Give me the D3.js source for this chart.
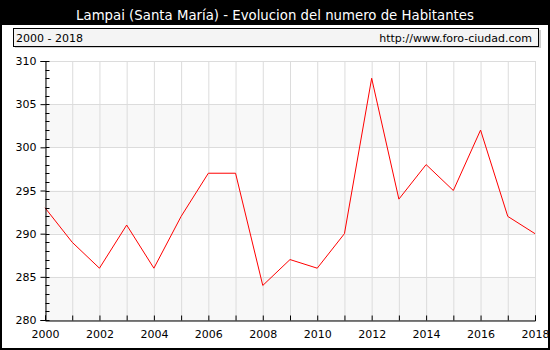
<!DOCTYPE html>
<html><head><meta charset="utf-8">
<script src="https://cdn.jsdelivr.net/npm/d3@7"></script>
<style>body{margin:0;background:#fff}svg{display:block}text{font-family:"DejaVu Sans",sans-serif}</style>
</head><body>
<script>
const titleText = "Lampai (Santa María) - Evolucion del numero de Habitantes";
const periodText = "2000 - 2018";
const sourceText = "http://www.foro-ciudad.com";
const years = [2000,2001,2002,2003,2004,2005,2006,2007,2008,2009,2010,2011,2012,2013,2014,2015,2016,2017,2018];
const population = [293,289,286,291,286,292,297,297,284,287,286,290,308,294,298,295,302,292,290];
const yTicks = [280,285,290,295,300,305,310];
const xLabels = [2000,2002,2004,2006,2008,2010,2012,2014,2016,2018];

const W=550,H=350;
const svg=d3.select("body").append("svg").attr("width",W).attr("height",H);
svg.append("rect").attr("x",1).attr("y",1).attr("width",W-2).attr("height",H-2).attr("fill","#fff").attr("stroke","#000").attr("stroke-width",2);
svg.append("rect").attr("x",0).attr("y",0).attr("width",W).attr("height",25).attr("fill","#000");
svg.append("text").attr("x",W/2).attr("y",20).attr("text-anchor","middle").attr("fill","#fff").attr("font-size",13.3).text(titleText);
svg.append("rect").attr("x",15).attr("y",30).attr("width",526).attr("height",18).attr("fill","#cfcfcf");
svg.append("rect").attr("x",13.5).attr("y",28.5).attr("width",525).attr("height",18).attr("fill","#f4f4f4").attr("stroke","#000").attr("stroke-width",1);
svg.append("text").attr("x",16).attr("y",41.5).attr("font-size",11).attr("fill","#000").text(periodText);
svg.append("text").attr("x",532).attr("y",41.5).attr("text-anchor","end").attr("font-size",11).attr("fill","#000").text(sourceText);

const x=d3.scaleLinear().domain([2000,2018]).range([45,535]);
const y=d3.scaleLinear().domain([280,310]).range([320,61]);
const g=svg.append("g");
// bands
for(let i=0;i<yTicks.length-1;i++){
  if(i%2===0){
    g.append("rect").attr("x",x(2000)).attr("y",y(yTicks[i+1])).attr("width",x(2018)-x(2000)).attr("height",y(yTicks[i])-y(yTicks[i+1])).attr("fill","#f8f8f8");
  }
}
// grid
g.selectAll(".vg").data(years).enter().append("line").attr("x1",d=>x(d)+0.5).attr("x2",d=>x(d)+0.5).attr("y1",y(310)).attr("y2",y(280)).attr("stroke","#dcdcdc").attr("stroke-width",1);
g.selectAll(".hg").data(yTicks).enter().append("line").attr("x1",x(2000)).attr("x2",x(2018)).attr("y1",d=>Math.round(y(d))+0.5).attr("y2",d=>Math.round(y(d))+0.5).attr("stroke","#dcdcdc").attr("stroke-width",1);
// line
const line=d3.line().x((d,i)=>x(years[i])).y(d=>y(d));
g.append("path").datum(population).attr("d",line).attr("fill","none").attr("stroke","#ff0000").attr("stroke-width",1);
// y axis
const yAxis=d3.axisLeft(y).tickValues(yTicks).tickSize(5).tickPadding(4).tickFormat(d3.format("d"));
const ya=svg.append("g").attr("transform",`translate(${x(2000)+0.5},0)`).call(yAxis);
const minor=d3.range(280,311,1);
ya.selectAll(".minor").data(minor).enter().append("line").attr("x1",0).attr("x2",4).attr("y1",d=>Math.round(y(d))+0.5).attr("y2",d=>Math.round(y(d))+0.5).attr("stroke","#000");
// x axis
const xAxis=d3.axisBottom(x).tickValues(years).tickSize(-5).tickPadding(10).tickFormat(d=>xLabels.includes(d)?String(d):"");
const xa=svg.append("g").attr("transform",`translate(0,${y(280)+0.5})`).call(xAxis);
[ya,xa].forEach(a=>{a.select(".domain").attr("stroke","#000");a.selectAll(".tick line").attr("stroke","#000");a.selectAll("text").attr("font-size",11).attr("fill","#000").attr("font-family","DejaVu Sans, sans-serif");});
xa.selectAll(".tick text").attr("dy","0.71em");
</script>
</body></html>
